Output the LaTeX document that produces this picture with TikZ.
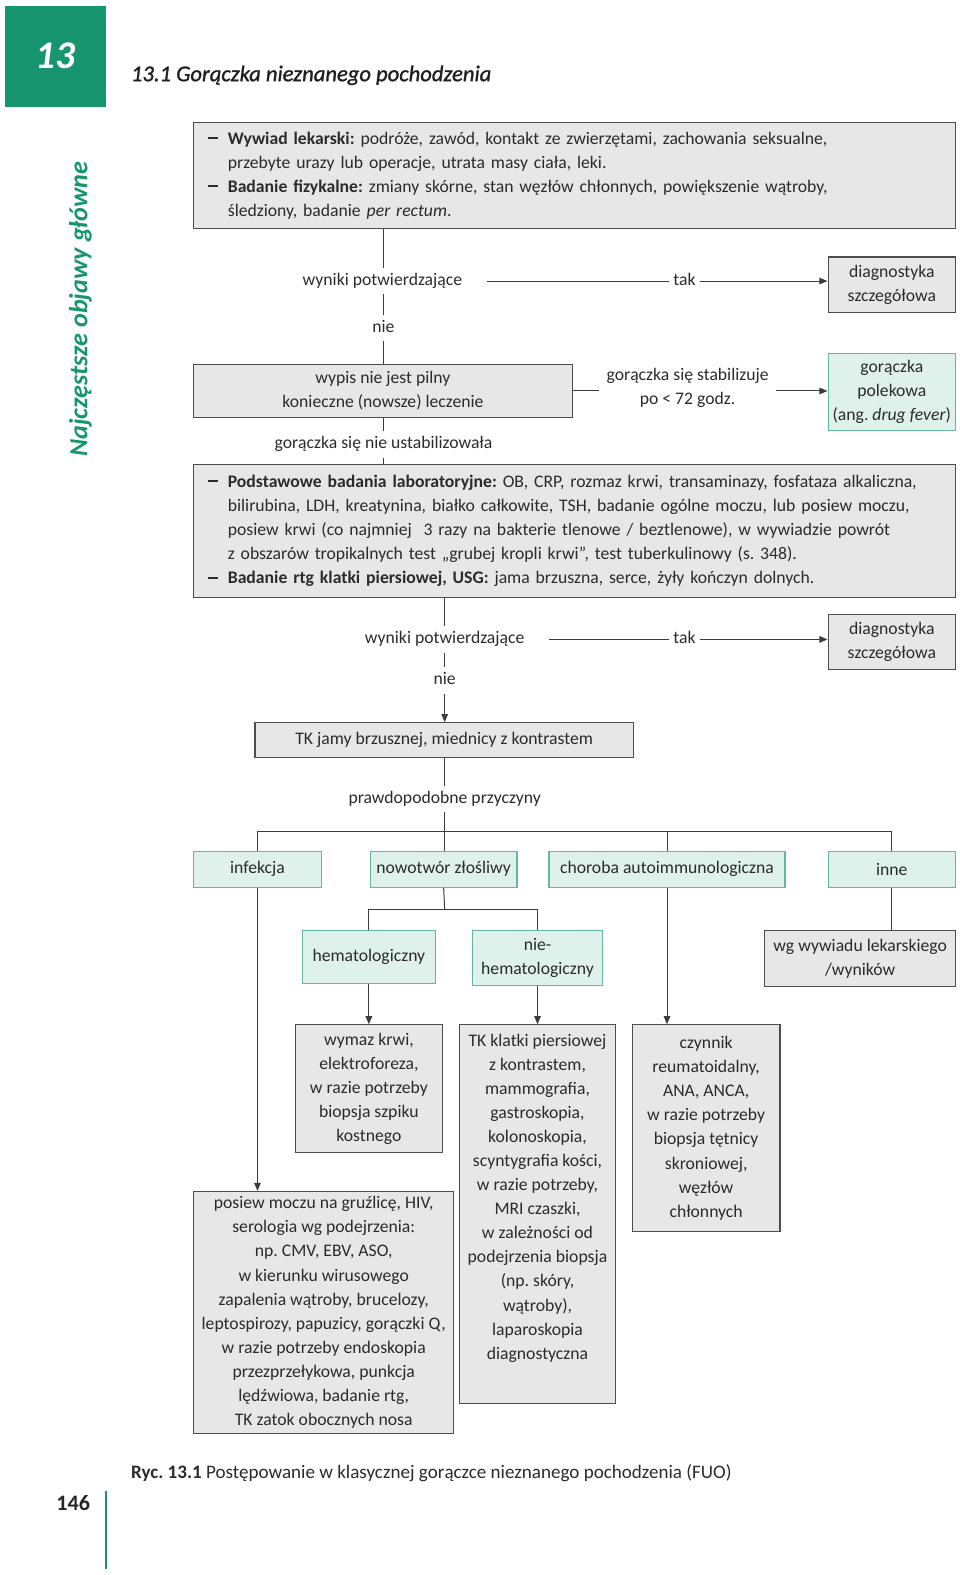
\documentclass[tikz,border=0pt]{standalone}
\usepackage{fontspec}
\setmainfont{Carlito}
\newfontfamily\titlefont[FakeBold=1.2]{Carlito}
\usetikzlibrary{arrows.meta}
\definecolor{hdgreen}{HTML}{17956F}
\definecolor{gfill}{HTML}{DFF1EB}
\definecolor{gborder}{HTML}{62B8A1}
\definecolor{gyfill}{HTML}{E7E7E8}
\definecolor{gyborder}{HTML}{4D4D4D}
\definecolor{txt}{HTML}{2B2B2B}
\definecolor{linec}{HTML}{3C3C3C}
\newcommand{\itemdash}{\makebox[20pt][l]{\rule[5pt]{10pt}{2pt}}}
\newcommand{\itemgap}{\hspace*{20pt}}
\begin{document}
\begin{tikzpicture}[x=1pt,y=-1pt,
  every node/.style={font=\fontsize{17.6}{24}\selectfont\frenchspacing, text=txt},
  gbox/.style={draw=gborder, fill=gfill, line width=1.2pt, align=center, inner sep=0pt},
  gybox/.style={draw=gyborder, fill=gyfill, line width=1.2pt, align=center, inner sep=0pt},
  lbl/.style={align=center, inner xsep=4pt, inner ysep=5pt, text height=12pt, text depth=4pt},
  lbltwo/.style={align=center, inner xsep=7pt, inner ysep=5pt},
  conn/.style={draw=linec, line width=1pt},
  arr/.style={conn, -{Triangle[length=8pt,width=6.5pt]}}]
\useasboundingbox (0,0) rectangle (956.4,1569.1);

% header
\node[fill=hdgreen, minimum size=101pt, inner sep=0pt, text=white,
      font=\fontsize{39}{40}\selectfont\bfseries\itshape] (chap) at (55.5,56) {\raisebox{-4pt}{13}};
\node[anchor=west, font=\fontsize{22.5}{24}\titlefont\itshape, text=black!88] (title) at (127,75) {13.1 Gorączka nieznanego pochodzenia};
\node[rotate=90, text=hdgreen, font=\fontsize{26}{28}\selectfont\bfseries\itshape] (side) at (80,308) {Najczęstsze objawy główne};

% section 1
\node[gybox, minimum width=759pt, minimum height=106pt, text width=731pt, align=left] (box1) at (572.5,175) {%
\itemdash\textbf{Wywiad lekarski:} podróże, zawód, kontakt ze zwierzętami, zachowania seksualne,\\
\itemgap przebyte urazy lub operacje, utrata masy ciała, leki.\\
\itemdash\textbf{Badanie fizykalne:} zmiany skórne, stan węzłów chłonnych, powiększenie wątroby,\\
\itemgap śledziony, badanie \textit{per rectum}.};

\node[lbl] (wp1) at (381,280) {wyniki potwierdzające};
\node[lbl] (nie1) at (382,327) {nie};
\node[lbl] (tak1) at (682,280) {tak};
\node[gybox, minimum width=127pt, minimum height=55pt] (diag1) at (888.5,283.5) {diagnostyka\\szczegółowa};
\node[gybox, minimum width=377pt, minimum height=53pt] (box2) at (381.5,389.5) {wypis nie jest pilny\\konieczne (nowsze) leczenie};
\node[lbltwo] (stab) at (685,386) {gorączka się stabilizuje\\po < 72 godz.};
\node[gbox, minimum width=127pt, minimum height=77pt] (drug) at (888.5,390.5) {gorączka\\polekowa\\(ang. \textit{drug fever})};
\node[lbl] (ustab) at (382,443) {gorączka się nie ustabilizowała};

\draw[conn] (box1.south -| nie1) -- (nie1 |- wp1.north);
\draw[conn] (nie1 |- wp1.south) -- (nie1.north);
\draw[conn] (nie1.south) -- (nie1.south |- box2.north);
\draw[conn, shorten <=21pt] (wp1.east) -- (tak1.west);
\draw[arr] (tak1.east) -- (tak1.east -| diag1.west);
\draw[conn] (box2.east) -- (stab.west |- box2.east);
\draw[arr] (stab.east |- box2.east) -- (drug.west |- box2.east);
\draw[conn] (box2.south -| ustab) -- (ustab.north);

% section 2
\node[gybox, minimum width=759pt, minimum height=132pt, text width=731pt, align=left] (box3) at (572.5,529) {%
\itemdash\textbf{Podstawowe badania laboratoryjne:} OB, CRP, rozmaz krwi, transaminazy, fosfataza alkaliczna,\\
\itemgap bilirubina, LDH, kreatynina, białko całkowite, TSH, badanie ogólne moczu, lub posiew moczu,\\
\itemgap posiew krwi (co najmniej\ \ 3 razy na bakterie tlenowe / beztlenowe), w wywiadzie powrót\\
\itemgap z obszarów tropikalnych test „grubej kropli krwi”, test tuberkulinowy (s. 348).\\
\itemdash\textbf{Badanie rtg klatki piersiowej, USG:} jama brzuszna, serce, żyły kończyn dolnych.};
\draw[conn] (ustab.south) -- (ustab.south |- box3.north);

\node[lbl] (wp2) at (443,637) {wyniki potwierdzające};
\node[lbl] (nie2) at (443,678) {nie};
\node[lbl] (tak2) at (682,637) {tak};
\node[gybox, minimum width=127pt, minimum height=55pt] (diag2) at (888.5,639.5) {diagnostyka\\szczegółowa};
\node[gybox, minimum width=377pt, minimum height=35pt] (tk) at (442.5,737.5) {TK jamy brzusznej, miednicy z kontrastem};
\node[lbl] (pp) at (443,796) {prawdopodobne przyczyny};

\draw[conn] (box3.south -| wp2) -- (wp2.north);
\draw[conn] (wp2) -- (nie2);
\draw[arr] (nie2.south) -- (nie2.south |- tk.north);
\draw[conn, shorten <=20pt] (wp2.east) -- (tak2.west);
\draw[arr] (tak2.east) -- (tak2.east -| diag2.west);
\draw[conn] (tk.south -| pp) -- (pp.north);

% causes
\node[gbox, minimum width=127pt, minimum height=36pt] (infekcja) at (256.5,866) {infekcja};
\node[gbox, minimum width=146pt, minimum height=36pt] (nowotwor) at (442,866) {nowotwór złośliwy};
\node[gbox, minimum width=235pt, minimum height=36pt] (choroba) at (664.5,866) {choroba autoimmunologiczna};
\node[gbox, minimum width=127pt, minimum height=36pt] (inne) at (888.5,866) {inne};
\coordinate (bus) at (443,828);
\draw[conn] (pp.south) -- (pp.south |- nowotwor.north);
\draw[conn] (infekcja.north) |- (bus) -| (inne.north);
\draw[conn] (choroba.north) -- (choroba.north |- bus);

\node[gbox, minimum width=133pt, minimum height=53pt] (hemat) at (367.5,953.5) {hematologiczny};
\node[gbox, minimum width=129pt, minimum height=55pt] (niehemat) at (535.5,954.5) {nie-\\hematologiczny};
\node[gybox, minimum width=190pt, minimum height=56pt] (wg) at (857,955) {wg wywiadu lekarskiego\\/wyników};
\coordinate (bus2) at (443,906);
\draw[conn] (nowotwor.south) -- (bus2);
\draw[conn] (hemat.north) |- (bus2) -| (niehemat.north);
\draw[conn] (inne.south) -- (inne.south |- wg.north);

% tests
\node[gybox, minimum width=147pt, minimum height=127pt] (wymaz) at (367.5,1084.5) {wymaz krwi,\\elektroforeza,\\w razie potrzeby\\biopsja szpiku\\kostnego};
\node[gybox, minimum width=155pt, minimum height=377pt] (tkkl) at (535.5,1209.5) {TK klatki piersiowej\\z kontrastem,\\mammografia,\\gastroskopia,\\kolonoskopia,\\scyntygrafia kości,\\w razie potrzeby,\\MRI czaszki,\\w zależności od\\podejrzenia biopsja\\(np. skóry,\\wątroby),\\laparoskopia\\diagnostyczna\\[11pt]\mbox{}};
\node[gybox, minimum width=147pt, minimum height=206pt] (czynnik) at (703.5,1124) {czynnik\\reumatoidalny,\\ANA, ANCA,\\w razie potrzeby\\biopsja tętnicy\\skroniowej,\\węzłów\\chłonnych};
\node[gybox, minimum width=259pt, minimum height=241pt] (posiew) at (322.5,1307.5) {posiew moczu na gruźlicę, HIV,\\serologia wg podejrzenia:\\np. CMV, EBV, ASO,\\w kierunku wirusowego\\zapalenia wątroby, brucelozy,\\leptospirozy, papuzicy, gorączki Q,\\w razie potrzeby endoskopia\\przezprzełykowa, punkcja\\lędźwiowa, badanie rtg,\\TK zatok obocznych nosa};

\draw[arr] (infekcja.south) -- (infekcja.south |- posiew.north);
\draw[arr] (hemat.south) -- (wymaz.north);
\draw[arr] (niehemat.south) -- (tkkl.north);
\draw[arr] (choroba.south) -- (choroba.south |- czynnik.north);

% footer
\node[anchor=west, font=\fontsize{19}{20}\selectfont\frenchspacing] (cap) at (127,1468) {\textbf{Ryc. 13.1} Postępowanie w klasycznej gorączce nieznanego pochodzenia (FUO)};
\node[font=\fontsize{22}{24}\selectfont\bfseries, text=black!85] (pg) at (73,1497) {146};
\draw[hdgreen, line width=2pt] (106,1485) -- (106,1563);
\end{tikzpicture}
\end{document}
